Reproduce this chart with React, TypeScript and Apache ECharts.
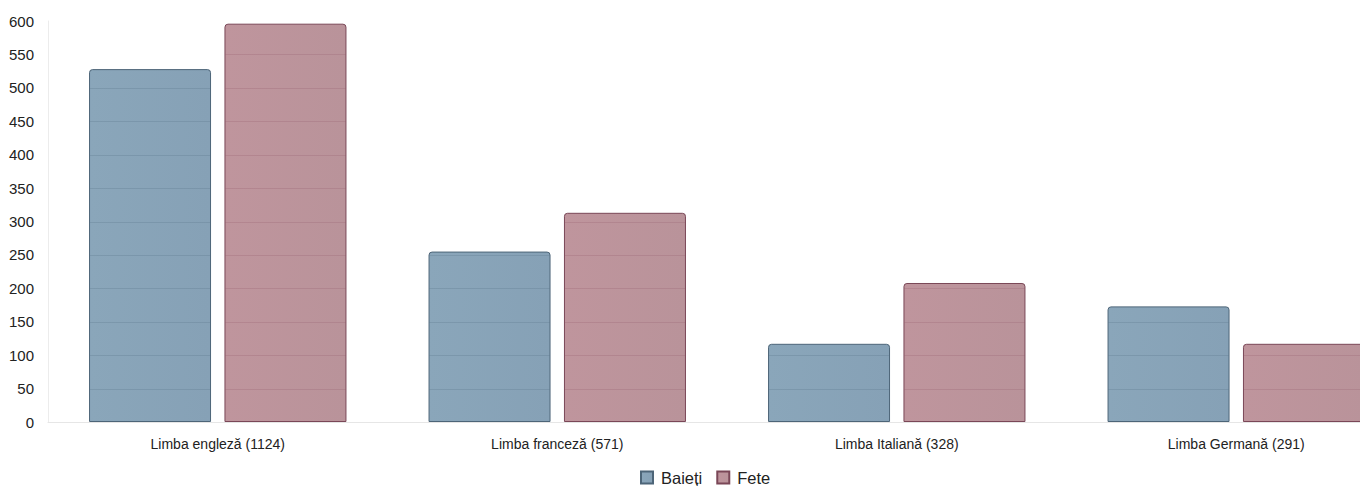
import React, { useEffect, useRef } from "react";
import * as echarts from "echarts";

const categories = [
  "Limba engleză (1124)",
  "Limba franceză (571)",
  "Limba Italiană (328)",
  "Limba Germană (291)",
];
const seriesNames = ["Baieți", "Fete"];
const boys = [528, 255, 117, 173];
const girls = [596, 313, 208, 117];
const yMax = 600;
const yStep = 50;

const FONT = "'Liberation Sans', Arial, sans-serif";
const BAR_W = 122;
const BAR_GAP = 13.5;

export default function App() {
  const ref = useRef<HTMLDivElement>(null);
  useEffect(() => {
    document.body.style.margin = "0";
    if (!ref.current) return;
    const chart = echarts.init(ref.current, undefined, { renderer: "svg" });
    const overlayData: number[][] = [];
    boys.forEach((v, i) => overlayData.push([i, v, 0]));
    girls.forEach((v, i) => overlayData.push([i, v, 1]));
    chart.setOption({
      animation: false,
      textStyle: { fontFamily: FONT },
      grid: { left: 48, top: 21, bottom: 64, width: 1358, outerBoundsMode: "none", containLabel: false },
      legend: {
        data: seriesNames,
        left: 640,
        top: 469,
        padding: 0,
        itemWidth: 12,
        itemHeight: 12,
        itemGap: 14,
        icon: "rect",
        textStyle: { fontFamily: FONT, fontSize: 16.5, lineHeight: 16, color: "#222", padding: [0, 0, 0, 3] },
      },
      xAxis: {
        type: "category",
        data: categories,
        axisLine: { lineStyle: { color: "#e6e6e6" } },
        axisTick: { show: false },
        axisLabel: { color: "#222", fontSize: 14, fontFamily: FONT, margin: 15 },
      },
      yAxis: {
        type: "value",
        min: 0,
        max: yMax,
        interval: yStep,
        axisLine: { show: true, lineStyle: { color: "#ececec" } },
        axisTick: { show: false },
        splitLine: { show: false },
        axisLabel: { color: "#222", fontSize: 15, fontFamily: FONT, margin: 14 },
      },
      series: [
        {
          name: seriesNames[0],
          type: "bar",
          data: boys,
          barWidth: BAR_W,
          barGap: "11%",
          itemStyle: {
            color: new echarts.graphic.LinearGradient(0, 0, 1, 0, [
              { offset: 0, color: "#8aa6ba" },
              { offset: 1, color: "#86a1b6" },
            ]),
            borderColor: "#4d6578",
            borderWidth: 1,
            borderRadius: [3, 3, 0, 0],
          },
        },
        {
          name: seriesNames[1],
          type: "bar",
          data: girls,
          barWidth: BAR_W,
          itemStyle: {
            color: new echarts.graphic.LinearGradient(0, 0, 1, 0, [
              { offset: 0, color: "#bf959d" },
              { offset: 1, color: "#b9939a" },
            ]),
            borderColor: "#7a4757",
            borderWidth: 1,
            borderRadius: [3, 3, 0, 0],
          },
        },
        {
          name: "grid-overlay",
          type: "custom",
          z: 5,
          silent: true,
          data: overlayData,
          renderItem: (params: any, api: any) => {
            const cat = api.value(0);
            const v = api.value(1);
            const s = api.value(2);
            const base = api.coord([cat, 0]);
            const x0 = base[0] - (BAR_W * 2 + BAR_GAP) / 2 + s * (BAR_W + BAR_GAP);
            const children: any[] = [];
            for (let t = yStep; t < v - 2; t += yStep) {
              const y = Math.round(api.coord([cat, t])[1]) + 0.5;
              children.push({
                type: "line",
                shape: { x1: x0 + 1, y1: y, x2: x0 + BAR_W - 1, y2: y },
                style: { stroke: s === 0 ? "rgba(40,70,95,0.14)" : "rgba(110,40,60,0.13)", lineWidth: 1 },
              });
            }
            return { type: "group", children };
          },
        },
      ],
    });
    return () => chart.dispose();
  }, []);
  return <div ref={ref} style={{ width: 1360, height: 486 }} />;
}
